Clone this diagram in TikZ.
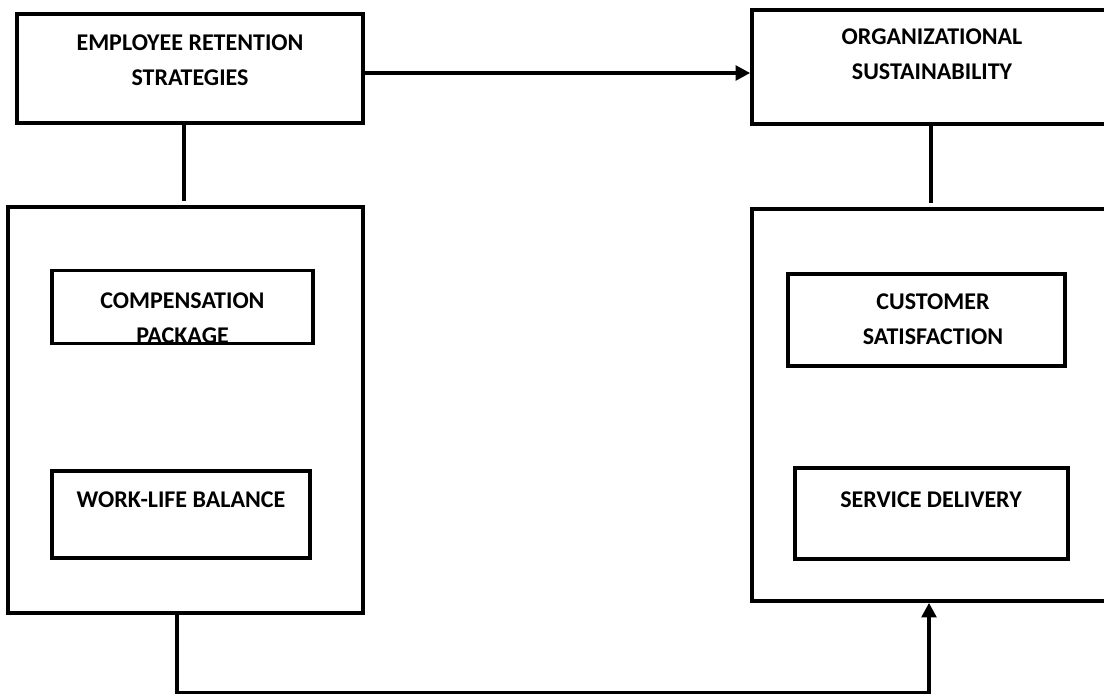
\documentclass[tikz,border=0pt]{standalone}
\usepackage{fontspec}
\setmainfont{Carlito}
\usetikzlibrary{arrows.meta}

\begin{document}
\begin{tikzpicture}[x=0.75pt,y=-0.75pt,>={Triangle[length=11pt,width=11pt]},
  box/.style={draw,line width=2.7pt,inner sep=0pt},
  sz/.style 2 args={minimum width=#1*0.75pt,minimum height=#2*0.75pt},
  txt/.style={font=\fontsize{18}{26.25}\selectfont\bfseries,align=center,inner sep=0pt},
  link/.style={line width=2.7pt}]
  \useasboundingbox (0,0) rectangle (1104,694);
  % outer boxes
  \node[box,sz={346}{109}] (ers) at (190,68.5) {};
  \node[box,sz={363}{114}] (os) at (933.5,67) {};
  \node[box,sz={355}{406}] (lb) at (185.5,410) {};
  \node[box,sz={363}{392}] (rb) at (933.5,405) {};
  % inner boxes
  \node[box,sz={261}{73}] (comp) at (182.5,307) {};
  \node[box,sz={258}{87}] (wlb) at (181,514.5) {};
  \node[box,sz={277}{92}] (cs) at (926.5,320) {};
  \node[box,sz={273}{91}] (sd) at (931.5,513.5) {};
  % texts
  \node[txt] (ers-t) at (190,60.5) {EMPLOYEE RETENTION\\STRATEGIES};
  \node[txt] (os-t) at (932,54.5) {ORGANIZATIONAL\\SUSTAINABILITY};
  \begin{scope}
    \clip (comp.south west) rectangle (comp.north east);
    \node[txt] (comp-t) at (182.5,318) {COMPENSATION\\PACKAGE};
  \end{scope}
  \node[txt] (wlb-t) at (181,499.5) {WORK-LIFE BALANCE};
  \node[txt] (cs-t) at (933,319.5) {CUSTOMER\\SATISFACTION};
  \node[txt] (sd-t) at (931,499.5) {SERVICE DELIVERY};
  % connectors
  \coordinate (ya) at (0,73);
  \coordinate (xa) at (184,0);
  \coordinate (xr) at (931,0);
  \coordinate (xb) at (177,0);
  \coordinate (xc) at (929,692.5);
  \draw[link,->] (ers.east |- ya) -- (os.west |- ya);
  \draw[link] (ers.south -| xa) -- ([yshift=3pt]lb.north -| xa);
  \draw[link] (os.south -| xr) -- ([yshift=3pt]rb.north -| xr);
  \draw[link,->] (lb.south -| xb) |- (xc) -- (rb.south -| xc);
\end{tikzpicture}
\end{document}
